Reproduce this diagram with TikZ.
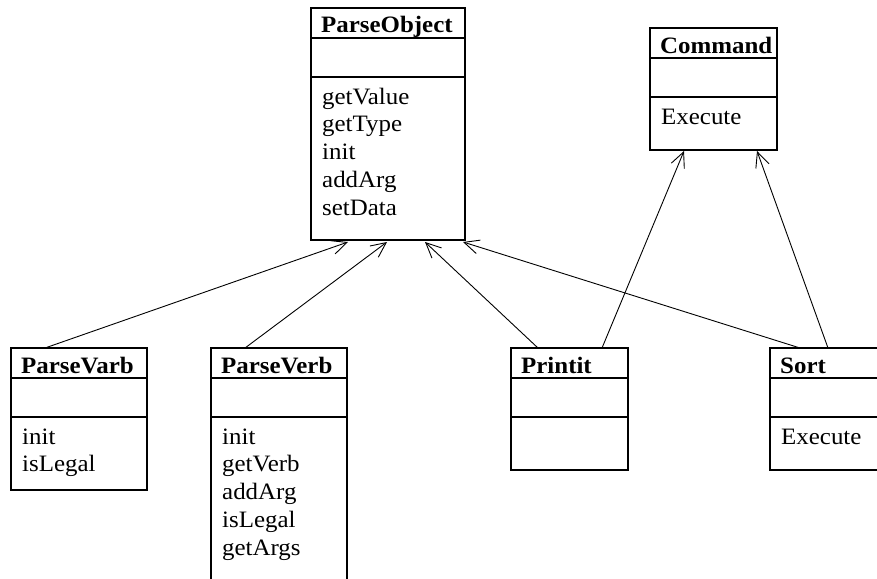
\documentclass[tikz,border=0pt]{standalone}
\usepackage{fontspec}
\setmainfont{Liberation Serif}[FakeStretch=1.06]
\usetikzlibrary{arrows.meta}
\tikzset{
  clsbox/.style={draw, line width=1.6pt, inner sep=0pt, outer sep=0pt},
  clsline/.style={line width=1.6pt},
  clstitle/.style={anchor=base west, inner sep=0pt, font=\fontsize{23.5}{27.8}\selectfont\bfseries},
  clsmeth/.style={anchor=base west, inner sep=0pt, font=\fontsize{23.5}{27.8}\selectfont},
  inh/.style={line width=0.9pt, -{Straight Barb[length=15pt,width=14pt,line width=0.9pt]}}
}
% #1 name, #2 x, #3 y, #4 width, #5 height, #6 title
\newcommand\umlclassbox[6]{%
  \node[clsbox, minimum width=#4pt, minimum height=#5pt, anchor=north west] (#1) at (#2,#3) {};
  \draw[clsline] ([yshift=-30pt]#1.north west) -- ([yshift=-30pt]#1.north east);
  \draw[clsline] ([yshift=-69pt]#1.north west) -- ([yshift=-69pt]#1.north east);
  \node[clstitle] (#1-t) at ({#2+10},{#3+25}) {#6};
}
\begin{document}
\begin{tikzpicture}[x=1pt,y=-1pt]
\useasboundingbox (0,0) rectangle (877,578);
\clip (0,0) rectangle (877,578);
\fill[white] (0,0) rectangle (877,578);

% classes
\umlclassbox{po}{311}{8}{154}{232}{ParseObject}
\foreach \m [count=\i] in {getValue,getType,init,addArg,setData}
  {\node[clsmeth] (po-m\i) at (322,{104+(\i-1)*27.8}) {\m};}

\umlclassbox{cmd}{650}{28}{127}{122}{Command}
\node[clsmeth] (cmd-m1) at (661,124) {Execute};

\umlclassbox{pvarb}{11}{348}{136}{142}{ParseVarb}
\foreach \m [count=\i] in {init,isLegal}
  {\node[clsmeth] (pvarb-m\i) at (22,{444+(\i-1)*27.8}) {\m};}

\umlclassbox{pverb}{211}{348}{136}{260}{ParseVerb}
\foreach \m [count=\i] in {init,getVerb,addArg,isLegal,getArgs}
  {\node[clsmeth] (pverb-m\i) at (222,{444+(\i-1)*27.8}) {\m};}

\umlclassbox{prt}{511}{348}{117}{122}{Printit}

\umlclassbox{srt}{770}{348}{120}{122}{Sort}
\node[clsmeth] (srt-m1) at (781,444) {Execute};

% connector end points
\coordinate (po-a1) at (348,242);
\coordinate (po-a2) at (387,242);
\coordinate (po-a3) at (425,242);
\coordinate (po-a4) at (463,242);
\coordinate (cmd-a1) at (684,151);
\coordinate (cmd-a2) at (757,151);
\coordinate (pvarb-s) at (45,348);
\coordinate (pverb-s) at (245,348);
\coordinate (prt-s1) at (538,348);
\coordinate (prt-s2) at (602,348);
\coordinate (srt-s1) at (800,348);
\coordinate (srt-s2) at (828,348);

\draw[inh] (pvarb-s) -- (po-a1);
\draw[inh] (pverb-s) -- (po-a2);
\draw[inh] (prt-s1) -- (po-a3);
\draw[inh] (srt-s1) -- (po-a4);
\draw[inh] (prt-s2) -- (cmd-a1);
\draw[inh] (srt-s2) -- (cmd-a2);
\end{tikzpicture}
\end{document}
